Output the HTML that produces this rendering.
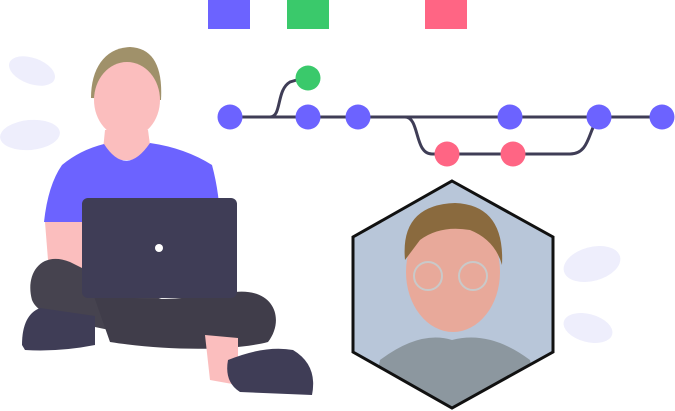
<!DOCTYPE html>
<html><head><style>html,body{margin:0;padding:0;background:#fff;width:675px;height:411px;overflow:hidden}</style></head>
<body>
<svg width="675" height="411" viewBox="0 0 675 411" xmlns="http://www.w3.org/2000/svg">
<rect x="208" y="0" width="42" height="29" fill="#6c63ff"/>
<rect x="287" y="0" width="42" height="29" fill="#3ac96b"/>
<rect x="425" y="0" width="42" height="29" fill="#ff6584"/>
<g fill="#eeeefc">
<ellipse cx="32" cy="71" rx="24" ry="13" transform="rotate(20 32 71)"/>
<ellipse cx="30" cy="135" rx="30" ry="15" transform="rotate(-5 30 135)"/>
<ellipse cx="592" cy="264" rx="29" ry="17" transform="rotate(-15 592 264)"/>
<ellipse cx="588" cy="328" rx="25" ry="14" transform="rotate(15 588 328)"/>
</g>
<g stroke="#3f3d56" stroke-width="3" fill="none">
<line x1="230" y1="117" x2="662" y2="117"/>
<path d="M270 117 C282 117 276 90 290 82 L300 79"/>
<path d="M405 117 C420 117 414 154 432 154 L570 154 C590 154 588 130 599 117"/>
</g>
<g fill="#6c63ff">
<circle cx="230" cy="117" r="12.5"/><circle cx="308" cy="117" r="12.5"/><circle cx="358" cy="117" r="12.5"/>
<circle cx="510" cy="117" r="12.5"/><circle cx="599" cy="117" r="12.5"/><circle cx="662" cy="117" r="12.5"/>
</g>
<circle cx="308" cy="78" r="12.5" fill="#3ac96b"/>
<circle cx="447" cy="154" r="12.5" fill="#ff6584"/><circle cx="513" cy="154" r="12.5" fill="#ff6584"/>
<!-- person -->
<path d="M91 98 C91 68 105 48 130 47 C152 48 163 65 161 100 Z" fill="#a0916a"/>
<ellipse cx="127" cy="100" rx="33" ry="38" fill="#fbbebe"/>
<path d="M105 130 L148 130 L152 160 L102 160 Z" fill="#fbbebe"/>
<path d="M62 165 Q80 150 104 144 Q126 178 150 143 Q185 148 212 165 Q220 195 220 225 L44 222 Q48 185 62 165 Z" fill="#6c63ff"/>
<path d="M45 222 L82 222 L82 280 L50 285 Z" fill="#fbbebe"/>
<path d="M70 262 C40 250 25 275 32 300 C40 320 80 322 130 335 C170 345 200 350 205 345 L210 315 C180 305 140 292 110 282 Z" fill="#46434f"/>
<path d="M90 285 C120 305 180 300 235 292 C275 288 285 320 268 342 C230 352 160 350 110 342 Z" fill="#403d4a"/>
<path d="M22 345 Q22 315 40 308 L95 316 L95 345 Q60 352 25 350 Z" fill="#3f3d56"/>
<path d="M205 335 L238 338 L238 385 L210 380 Z" fill="#fbbebe"/>
<path d="M228 360 Q265 345 293 350 Q318 365 312 395 L240 392 Q224 382 228 360 Z" fill="#3f3d56"/>
<rect x="82" y="198" width="155" height="100" rx="6" fill="#3f3d56"/>
<circle cx="159" cy="248" r="4" fill="#fff"/>
<defs><clipPath id="hx"><polygon points="452,181 553,237 553,352 452,408 353,352 353,237"/></clipPath></defs>
<g clip-path="url(#hx)">
<rect x="350" y="178" width="206" height="232" fill="#b8c6d9"/>
<path d="M380 360 Q420 330 452 340 Q490 330 530 360 L540 410 L370 410 Z" fill="#8c979f"/>
<ellipse cx="453" cy="272" rx="47" ry="60" fill="#e8a99a"/>
<path d="M405 260 Q400 205 455 203 Q505 205 502 265 Q495 240 470 230 Q440 225 420 240 Z" fill="#8a6a3e"/>
<circle cx="428" cy="276" r="14" fill="none" stroke="#c9c9c9" stroke-width="2"/>
<circle cx="473" cy="276" r="14" fill="none" stroke="#c9c9c9" stroke-width="2"/>
</g>
<polygon points="452,181 553,237 553,352 452,408 353,352 353,237" fill="none" stroke="#111" stroke-width="3"/>
</svg>
</body></html>
